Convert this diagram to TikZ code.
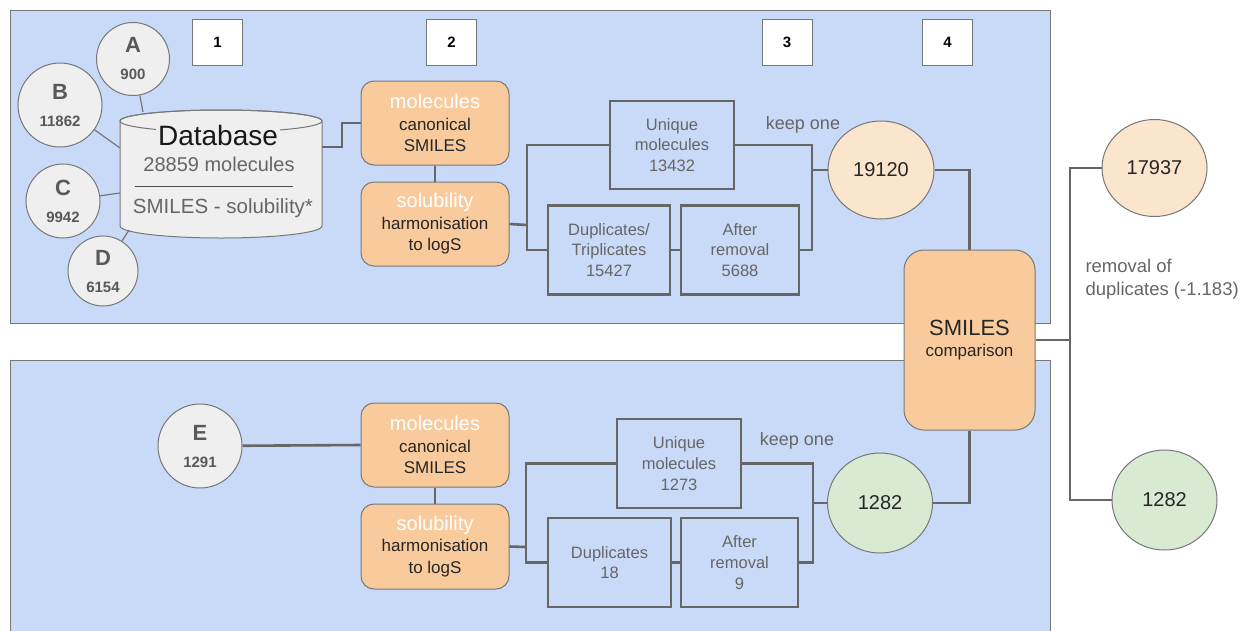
\documentclass[tikz,border=0pt]{standalone}
\usepackage{fontspec}
\setmainfont{Liberation Sans}
\usetikzlibrary{shapes.geometric}
\definecolor{panelblue}{HTML}{C9DAF8}
\definecolor{boxorange}{HTML}{F9CB9C}
\definecolor{lightorange}{HTML}{FCE5CD}
\definecolor{lightgreen}{HTML}{D9EAD3}
\definecolor{lightgray}{HTML}{EFEFEF}
\definecolor{linegray}{HTML}{666666}
\definecolor{bordergray}{HTML}{777777}
\definecolor{textgray}{HTML}{666666}
\definecolor{darktext}{HTML}{595959}
\tikzset{
  panel/.style={fill=panelblue, draw=bordergray, line width=1pt},
  numbox/.style={rectangle, fill=white, draw=bordergray, line width=1pt, minimum width=50, minimum height=46, inner sep=0pt, font=\fontsize{15}{18}\selectfont\bfseries},
  src/.style={circle, fill=lightgray, draw=bordergray, line width=1pt, inner sep=0pt, align=center, text=darktext, font=\fontsize{15}{27}\selectfont\bfseries},
  thinconn/.style={draw=bordergray, line width=1.2pt},
  conn/.style={draw=linegray, line width=2.6pt},
  obox/.style={rectangle, rounded corners=13pt, fill=boxorange, draw=bordergray, line width=1pt, minimum width=148, minimum height=84, inner sep=0pt, align=center, font=\fontsize{17}{21.5}\selectfont, text=black!85},
  gbox/.style={rectangle, draw=linegray, line width=2.6pt, inner sep=0pt, align=center, text=textgray, font=\fontsize{16.5}{20.8}\selectfont},
  oval/.style={ellipse, draw=bordergray, line width=1pt, inner sep=0pt, font=\fontsize{20}{24}\selectfont, text=black!85},
  note/.style={text=textgray, font=\fontsize{18}{23}\selectfont}
}
\newcommand{\srcletter}[1]{{\fontsize{22}{27}\selectfont #1}}
\begin{document}
\begin{tikzpicture}[x=1pt,y=-1pt]
\useasboundingbox (0,0) rectangle (1245,630);
% panels
\draw[panel] (10,10) rectangle (1050,323);
\draw[panel] (10,360) rectangle (1050,640);
% step numbers
\node[numbox] (n1) at (217.5,42.5) {1};
\node[numbox] (n2) at (451.5,42.5) {2};
\node[numbox] (n3) at (787,42.5) {3};
\node[numbox] (n4) at (947.5,42.5) {4};
% database cylinder
\filldraw[fill=lightgray, draw=bordergray, line width=1pt] (120,121) -- (120,226) arc[start angle=180, end angle=0, x radius=101, y radius=12] -- (322,121) arc[start angle=0, end angle=-180, x radius=101, y radius=11] -- cycle;
\draw[draw=bordergray, line width=1pt] (221,121) ellipse[x radius=101, y radius=11];
\node[fill=lightgray, inner sep=2pt, font=\fontsize{28}{30}\selectfont, text=black!90] (dbtitle) at (218,135) {Database};
\node[text=textgray, font=\fontsize{20}{24}\selectfont] (dbcount) at (219,164) {28859 molecules};
\coordinate (sepL) at (135,186);
\coordinate (sepR) at (293,186);
\draw[draw=black!70, line width=0.8pt] (sepL) -- (sepR);
\node[text=textgray, font=\fontsize{20.5}{24}\selectfont] (dbcols) at (223,208) {SMILES - solubility*};
\coordinate (dbA) at (143,112);
\coordinate (dbB) at (120,148);
\coordinate (dbC) at (120,193);
\coordinate (dbD) at (129,230);
\coordinate (dbR) at (322,147);
% source circles
\node[src, minimum size=73] (A) at (133,59) {\srcletter{A}\\900};
\node[src, minimum size=84] (B) at (60,105) {\srcletter{B}\\11862};
\node[src, minimum size=74] (C) at (63,201) {\srcletter{C}\\9942};
\node[src, minimum size=70] (D) at (103,271) {\srcletter{D}\\6154};
\draw[thinconn] (A) -- (dbA);
\draw[thinconn] (B) -- (dbB);
\draw[thinconn] (C) -- (dbC);
\draw[thinconn] (D) -- (dbD);
% top pipeline
\node[obox] (mol1) at (435,123) {{\color{white}\fontsize{20}{21.5}\selectfont molecules}\\canonical\\SMILES};
\node[obox] (sol1) at (435,224) {{\color{white}\fontsize{20}{21.5}\selectfont solubility}\\harmonisation\\to logS};
\draw[conn] (dbR) -- ++(20,0) |- (mol1.west);
\draw[conn] (mol1.south) -- (sol1.north);
\node[gbox, minimum width=124, minimum height=88] (uniq1) at (672,145) {Unique\\molecules\\13432};
\node[gbox, minimum width=122, minimum height=89] (dup1) at (609,250) {Duplicates/\\Triplicates\\15427};
\node[gbox, minimum width=118, minimum height=89] (aft1) at (740,250) {After\\removal\\5688};
\coordinate (j1) at (527,225);
\draw[conn] (sol1.east) -- (j1);
\draw[conn] (uniq1.west) -| (j1) |- (dup1.west);
\draw[conn] (dup1.east) -- (aft1.west);
\node[oval, fill=lightorange, minimum width=106, minimum height=98] (c1) at (881,170) {19120};
\coordinate (k1) at (812,170);
\draw[conn] (uniq1.east) -| (k1) |- (aft1.east);
\draw[conn] (k1) -- (c1.west);
\node[note] (keep1) at (803,125) {keep one};
% bottom pipeline
\node[src, minimum size=84] (E) at (200,446) {\srcletter{E}\\1291};
\node[obox] (mol2) at (435,445) {{\color{white}\fontsize{20}{21.5}\selectfont molecules}\\canonical\\SMILES};
\node[obox, minimum height=85] (sol2) at (435,546.5) {{\color{white}\fontsize{20}{21.5}\selectfont solubility}\\harmonisation\\to logS};
\draw[conn] (E) -- (mol2.west);
\draw[conn] (mol2.south) -- (sol2.north);
\node[gbox, minimum width=124, minimum height=89] (uniq2) at (679,463.5) {Unique\\molecules\\1273};
\node[gbox, minimum width=123, minimum height=89] (dup2) at (609.5,562.5) {Duplicates\\18};
\node[gbox, minimum width=117, minimum height=89] (aft2) at (739.5,562.5) {After\\removal\\9};
\coordinate (j2) at (526,547);
\draw[conn] (sol2.east) -- (j2);
\draw[conn] (uniq2.west) -| (j2) |- (dup2.west);
\draw[conn] (dup2.east) -- (aft2.west);
\node[oval, fill=lightgreen, minimum width=105, minimum height=100] (c2) at (880,503) {1282};
\coordinate (k2) at (813,503);
\draw[conn] (uniq2.east) -| (k2) |- (aft2.east);
\draw[conn] (k2) -- (c2.west);
\node[note] (keep2) at (797,441) {keep one};
% comparison
\node[obox, rounded corners=20pt, minimum width=131, minimum height=180] (smiles) at (969.5,340) {{\fontsize{22}{26}\selectfont SMILES}\\comparison};
\draw[conn] (c1.east) -| (smiles.north);
\draw[conn] (c2.east) -| (smiles.south);
% results
\node[oval, fill=lightorange, minimum width=105, minimum height=97] (r1) at (1154.5,168) {17937};
\node[oval, fill=lightgreen, minimum width=105, minimum height=100] (r2) at (1164.5,500) {1282};
\coordinate (jr) at (1070,340);
\draw[conn, line width=2.2pt] (smiles.east) -- (jr);
\draw[conn, line width=2.2pt] (r1.west) -| (jr) |- (r2.west);
\node[note, anchor=west, align=left, font=\fontsize{18.5}{23}\selectfont] (rem) at (1082,279) {removal of\\duplicates (-1.183)};
\end{tikzpicture}
\end{document}
